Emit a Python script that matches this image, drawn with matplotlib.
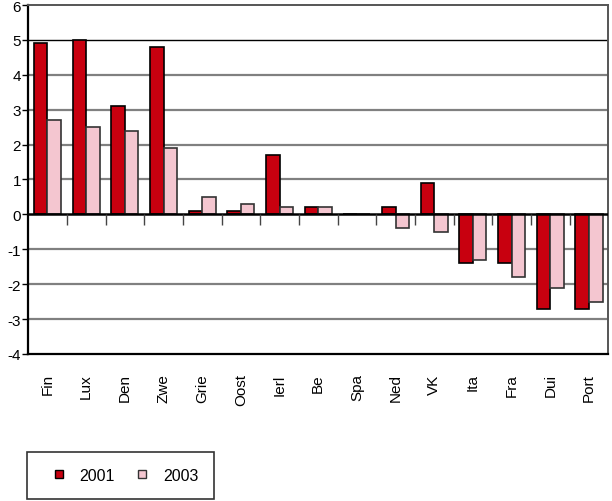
import matplotlib
matplotlib.use("Agg")
import matplotlib.pyplot as plt
from matplotlib.lines import Line2D
import numpy as np

COUNTRIES = ["Fin", "Lux", "Den", "Zwe", "Grie", "Oost", "Ierl", "Be", "Spa",
             "Ned", "VK", "Ita", "Fra", "Dui", "Port"]
VALUES_2001 = [4.9, 5.0, 3.1, 4.8, 0.1, 0.1, 1.7, 0.2, 0.0, 0.2, 0.9, -1.4, -1.4, -2.7, -2.7]
VALUES_2003 = [2.7, 2.5, 2.4, 1.9, 0.5, 0.3, 0.2, 0.2, 0.0, -0.4, -0.5, -1.3, -1.8, -2.1, -2.5]
YEARS = ["2001", "2003"]
Y_TICKS = [-4, -3, -2, -1, 0, 1, 2, 3, 4, 5, 6]

RED = "#c8000f"
PINK = "#f4c6d0"

plt.rcParams["font.family"] = ["Liberation Sans", "DejaVu Sans"]
plt.rcParams["font.size"] = 11

fig = plt.figure(figsize=(6.12, 5.02), dpi=100)
ax = fig.add_axes([0.046, 0.293, 0.948, 0.695])

x = np.arange(len(COUNTRIES))
width = 0.35
ax.bar(x - width / 2, VALUES_2001, width, color=RED, edgecolor="black", linewidth=1.2, zorder=3)
ax.bar(x + width / 2, VALUES_2003, width, color=PINK, edgecolor="#333333", linewidth=1.2, zorder=3)

ax.set_xlim(-0.5, len(COUNTRIES) - 0.5)
ax.set_ylim(-4, 6)
ax.set_yticks(Y_TICKS)
ax.set_yticklabels([str(t) for t in Y_TICKS])
ax.set_xticks(x)
ax.set_xticklabels(COUNTRIES, rotation=90)
ax.tick_params(axis="x", length=0, pad=14)
ax.tick_params(axis="y", length=4, width=1, pad=1)

for t in Y_TICKS[1:-1]:
    if t == 0:
        continue
    if t == 5:
        ax.axhline(t, color="black", linewidth=1.0, zorder=1)
    else:
        ax.axhline(t, color="#808080", linewidth=1.6, zorder=1)
ax.axhline(0, color="black", linewidth=1.8, zorder=4)

# separators below the zero line
ax.vlines(x[:-1] + 0.5, -0.3, 0, color="#444444", linewidth=1.0, zorder=4)

for side in ["left", "bottom"]:
    ax.spines[side].set_color("black")
    ax.spines[side].set_linewidth(1.6)
for side in ["top", "right"]:
    ax.spines[side].set_color("#555555")
    ax.spines[side].set_linewidth(1.4)

handles = [
    Line2D([], [], marker="s", linestyle="none", markersize=6,
           markerfacecolor=RED, markeredgecolor="black"),
    Line2D([], [], marker="s", linestyle="none", markersize=6,
           markerfacecolor=PINK, markeredgecolor="#333333"),
]
leg = fig.legend(handles, YEARS, loc="lower left", bbox_to_anchor=(0.044, 0.004, 0.306, 0.094),
                 mode="expand", ncol=2, frameon=True, fancybox=False, borderaxespad=0,
                 handletextpad=0.3, columnspacing=2.5, borderpad=1.0, fontsize=11.5)
leg.get_frame().set_edgecolor("black")
leg.get_frame().set_linewidth(1.2)

fig.savefig("out.png", dpi=100)
